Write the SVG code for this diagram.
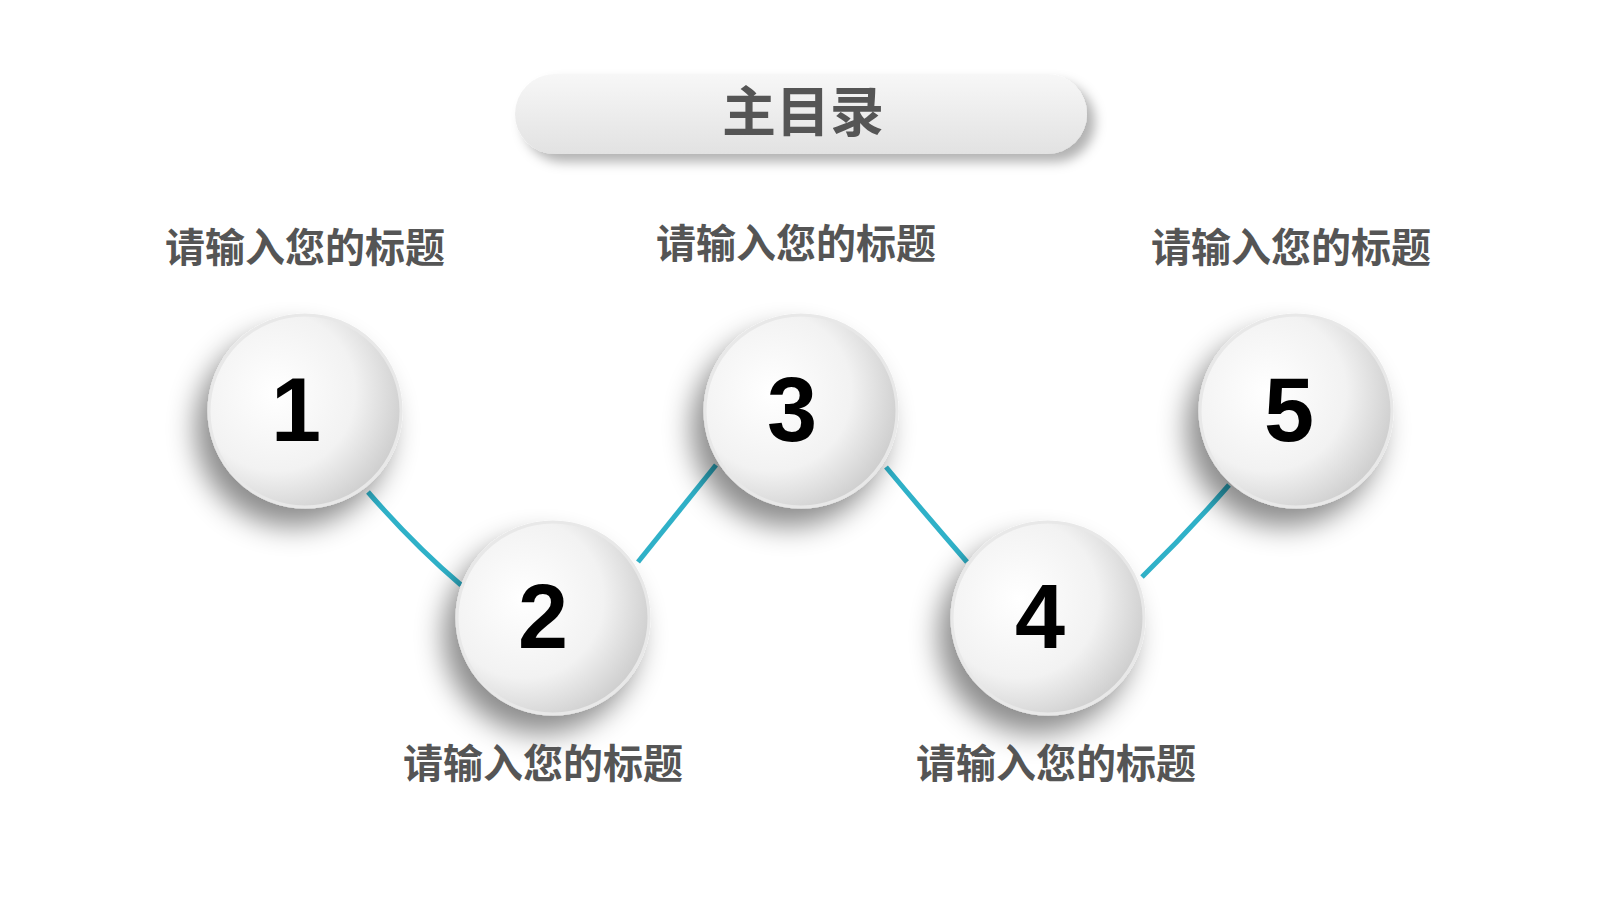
<svg xmlns="http://www.w3.org/2000/svg" width="1600" height="900" viewBox="0 0 1600 900">
<defs>
<radialGradient id="cg" cx="0.35" cy="0.4" r="0.75"><stop offset="0" stop-color="#ffffff"/><stop offset="0.55" stop-color="#f2f2f2"/><stop offset="1" stop-color="#c4c4c4"/></radialGradient>
<linearGradient id="pg" x1="0" y1="0" x2="0" y2="1"><stop offset="0" stop-color="#f7f7f7"/><stop offset="1" stop-color="#e2e2e2"/></linearGradient>
<filter id="sh" x="-50%" y="-50%" width="200%" height="200%"><feDropShadow dx="-12" dy="18" stdDeviation="14" flood-color="#000" flood-opacity="0.45"/></filter>
<filter id="psh" x="-20%" y="-50%" width="140%" height="220%"><feDropShadow dx="8" dy="8" stdDeviation="6" flood-color="#000" flood-opacity="0.3"/></filter>
</defs>
<style>
.c{fill:url(#cg);stroke:#e8e8e8;stroke-width:3;filter:url(#sh)}
.n{font-family:"Liberation Sans",sans-serif;font-weight:bold;font-size:90px;fill:#000;text-anchor:middle}
.l{font-family:"Noto Sans CJK SC",sans-serif;font-weight:bold;font-size:40px;fill:#555;text-anchor:middle}
.k{stroke:#2fb1c8;stroke-width:5;fill:none}
</style>
<rect width="1600" height="900" fill="#fff"/>
<g id="title"><rect x="515" y="74" width="572" height="80" rx="40" fill="url(#pg)" filter="url(#psh)"/>
<text x="803" y="132" class="l" style="font-size:54px">主目录</text></g>
<g id="connectors">
<path class="k" d="M368 492 Q414 545 461 585"/>
<path class="k" d="M638 562 Q678 512 716 465"/>
<path class="k" d="M886 467 Q926 515 967 562"/>
<path class="k" d="M1142 577 Q1188 532 1229 485"/>
</g>
<g id="n1"><circle class="c" cx="305" cy="411" r="96"/><text class="n" x="296" y="441">1</text><text class="l" x="305" y="262">请输入您的标题</text></g>
<g id="n2"><circle class="c" cx="553" cy="618" r="96"/><text class="n" x="543" y="648">2</text><text class="l" x="543" y="778">请输入您的标题</text></g>
<g id="n3"><circle class="c" cx="801" cy="411" r="96"/><text class="n" x="792" y="441">3</text><text class="l" x="796" y="258">请输入您的标题</text></g>
<g id="n4"><circle class="c" cx="1048" cy="618" r="96"/><text class="n" x="1040" y="648">4</text><text class="l" x="1056" y="778">请输入您的标题</text></g>
<g id="n5"><circle class="c" cx="1296" cy="411" r="96"/><text class="n" x="1289" y="441">5</text><text class="l" x="1291" y="262">请输入您的标题</text></g>
</svg>
